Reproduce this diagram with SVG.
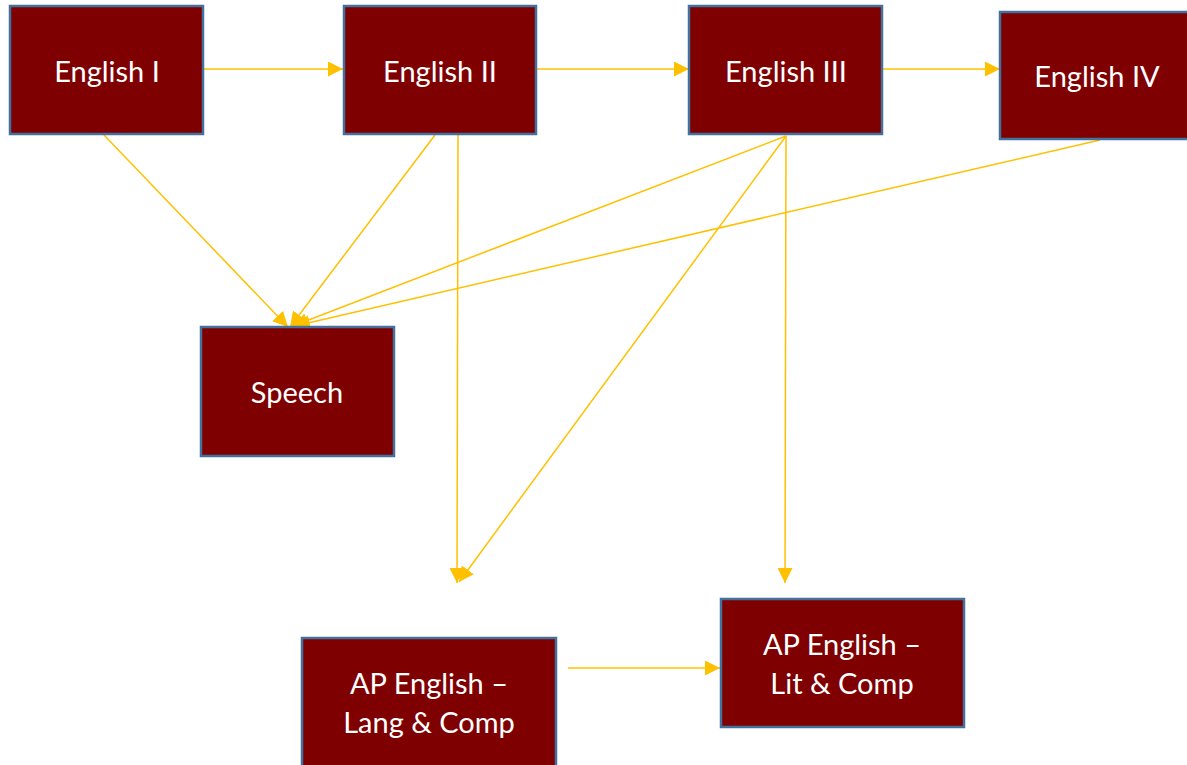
<svg xmlns="http://www.w3.org/2000/svg" width="1187" height="765" viewBox="0 0 1187 765">
<style>
.box{fill:#7F0000;stroke:#41719C;stroke-width:2.5}
.lbl{fill:#FFFFFF;font-family:Lato,"Open Sans","DejaVu Sans",sans-serif;font-size:29px;text-anchor:middle}
.con{stroke:#FFC000;stroke-width:1.5;fill:none;marker-end:url(#ah)}
</style>
<defs>
<marker id="ah" markerUnits="userSpaceOnUse" markerWidth="15" markerHeight="15" viewBox="0 0 10 10" refX="10" refY="5" orient="auto">
<path d="M0,0 L10,5 L0,10 z" fill="#FFC000"/>
</marker>
</defs>
<rect width="1187" height="765" fill="#FFFFFF"/>
<g id="connectors">
<line class="con" x1="204" y1="69" x2="343" y2="69"/>
<line class="con" x1="537" y1="69" x2="689" y2="69"/>
<line class="con" x1="883" y1="69" x2="1000" y2="69"/>
<line class="con" x1="104" y1="135" x2="288" y2="327"/>
<line class="con" x1="435" y1="135" x2="290" y2="327"/>
<line class="con" x1="786" y1="136" x2="293" y2="326"/>
<line class="con" x1="1100" y1="140" x2="295" y2="326"/>
<line class="con" x1="458" y1="135" x2="457" y2="583"/>
<line class="con" x1="786" y1="136" x2="459" y2="582"/>
<line class="con" x1="786" y1="136" x2="785" y2="583"/>
<line class="con" x1="568" y1="668" x2="720" y2="668"/>
</g>
<g id="english1">
<rect class="box" x="10" y="6" width="193" height="128"/>
<text class="lbl" x="107" y="82">English I</text>
</g>
<g id="english2">
<rect class="box" x="344" y="6" width="192" height="128"/>
<text class="lbl" x="440" y="82">English II</text>
</g>
<g id="english3">
<rect class="box" x="689" y="6" width="193" height="128"/>
<text class="lbl" x="786" y="82">English III</text>
</g>
<g id="english4">
<rect class="box" x="1000" y="12" width="194" height="127"/>
<text class="lbl" x="1097" y="87">English IV</text>
</g>
<g id="speech">
<rect class="box" x="201" y="327" width="193" height="129"/>
<text class="lbl" x="297" y="403">Speech</text>
</g>
<g id="aplang">
<rect class="box" x="302" y="638" width="254" height="135"/>
<text class="lbl" x="429" y="694">AP English –</text>
<text class="lbl" x="429" y="733">Lang &amp; Comp</text>
</g>
<g id="aplit">
<rect class="box" x="721" y="599" width="243" height="128"/>
<text class="lbl" x="842" y="655">AP English –</text>
<text class="lbl" x="842" y="694">Lit &amp; Comp</text>
</g>
</svg>
